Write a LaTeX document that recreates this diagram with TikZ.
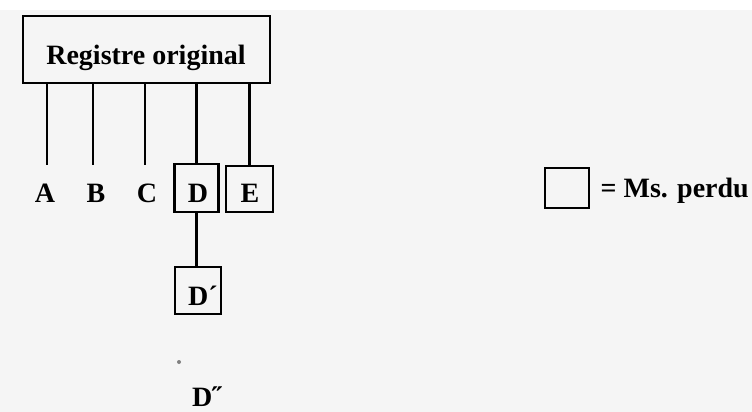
\documentclass[tikz,border=0pt]{standalone}
\usepackage{fontspec}
\setmainfont{Liberation Serif}
\begin{document}
\begin{tikzpicture}[x=1pt,y=-1pt,
  lbl/.style={font=\fontsize{28}{30}\selectfont\bfseries, inner sep=0pt, anchor=base},
  boxs/.style={draw, line width=2.8pt, inner sep=0pt},
  conn/.style={line width=2.4pt}]
\useasboundingbox (0,0) rectangle (752,412);
\fill[white] (0,0) rectangle (752,412);
\fill[black!4] (0,10) rectangle (752,412);
% main register
\node[boxs, minimum width=247pt, minimum height=67pt] (reg) at (146.5,49.5) {};
\node[lbl] (regt) at (146,64) {Registre original};
% free ends
\coordinate (a) at (47,165);
\coordinate (b) at (93,165);
\coordinate (c) at (145,165);
\node[lbl] (A) at (45,202) {A};
\node[lbl] (B) at (96,202) {B};
\node[lbl] (C) at (147,202) {C};
% lost manuscripts
\node[boxs, minimum width=44pt, minimum height=48pt] (dbox) at (196.5,188) {};
\node[lbl] (D) at (198,202) {D};
\node[boxs, minimum width=47pt, minimum height=46pt] (ebox) at (249.5,189) {};
\node[lbl] (E) at (250,202) {E};
\node[boxs, minimum width=46pt, minimum height=47pt] (dpbox) at (198,290.5) {};
\node[lbl] (Dp) at (203,305) {D´};
\node[lbl] (Dpp) at (207,406) {D˝};
% connectors
\draw[conn] (reg.south -| a) -- (a);
\draw[conn] (reg.south -| b) -- (b);
\draw[conn] (reg.south -| c) -- (c);
\draw[conn] (reg.south -| dbox.north) -- (dbox.north);
\draw[conn] (reg.south -| ebox.north) -- (ebox.north);
\draw[conn] (dbox.south) -- (dbox.south |- dpbox.north);
% speck
\fill[black!50] (179,362) circle (2pt);
% legend
\node[boxs, minimum width=44pt, minimum height=40pt] (leg) at (567,188) {};
\node[lbl, anchor=base east] (legt) at (749,197) {= Ms. perdu};
\end{tikzpicture}
\end{document}
